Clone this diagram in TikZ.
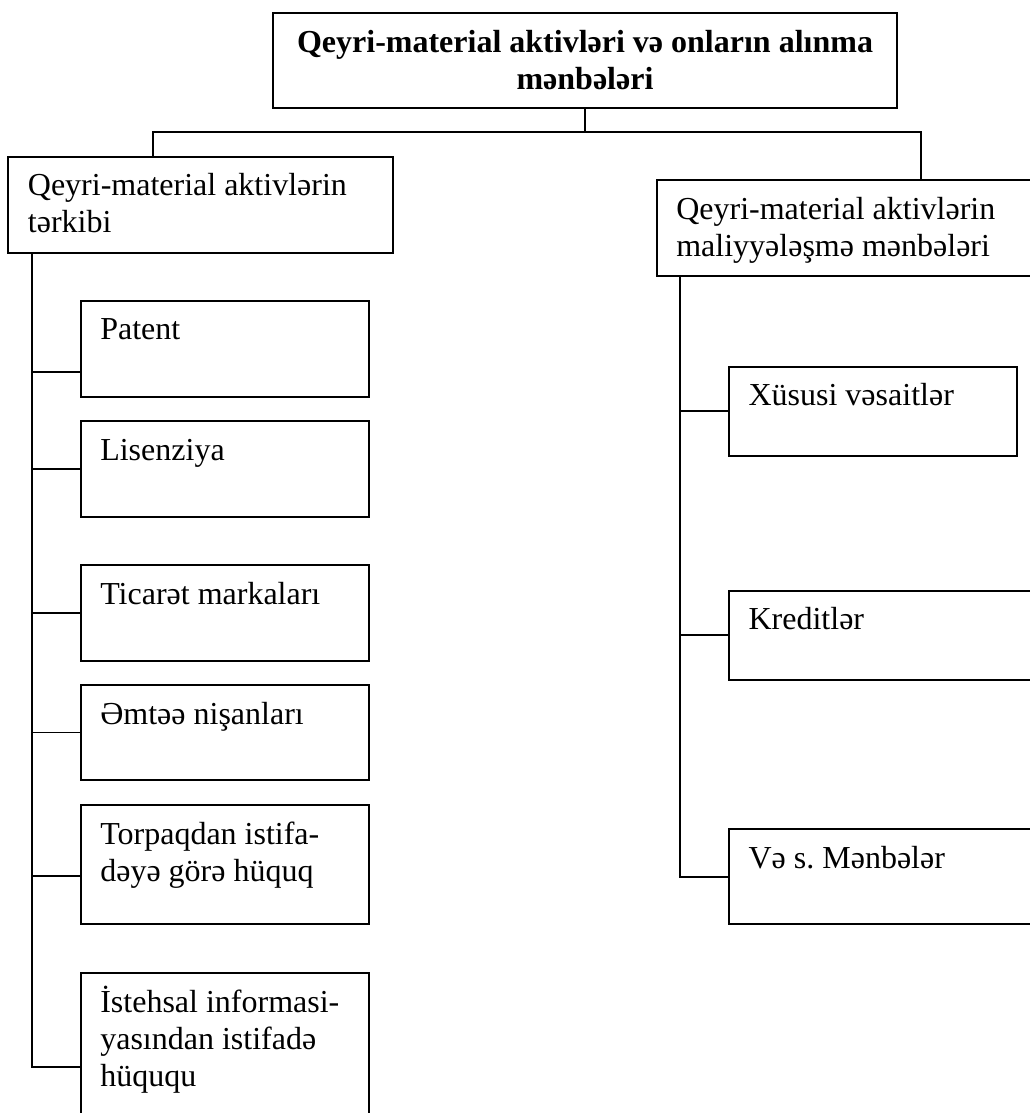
\documentclass[tikz,border=0pt]{standalone}
\usepackage{fontspec}
\setmainfont{Liberation Serif}
\usetikzlibrary{fit,calc}
\frenchspacing
\begin{document}
\begin{tikzpicture}[x=0.375pt,y=-0.375pt,
  box/.style={draw, line width=0.7pt, inner sep=0pt, rectangle},
  txt/.style={anchor=north west, inner sep=0pt, align=left,
    font=\fontsize{12pt}{13.9pt}\selectfont},
  link/.style={draw, line width=0.7pt}]
\useasboundingbox (0,0) rectangle (1030,1113);
\clip (0,0) rectangle (1030,1113);

% title box
\node[box, fit={(273,13)(897,108)}] (root) {};
\node[txt, anchor=north, align=center,
  font=\bfseries\fontsize{12pt}{13.9pt}\selectfont] (rootT)
  at ($(root.north)+(0,7.5)$)
  {\rule{0pt}{12pt}Qeyri-material aktivləri və onların alınma\\ mənbələri};

% the two branches
\node[box, fit={(8.3,156.7)(393,252.7)}] (comp) {};
\node[txt] (compT) at ($(comp.north west)+(20,7.5)$)
  {\rule{0pt}{12pt}Qeyri-material aktivlərin\\ tərkibi};

\node[box, fit={(656.7,180)(1045,276)}] (fin) {};
\node[txt] (finT) at ($(fin.north west)+(20,7.5)$)
  {\rule{0pt}{12pt}Qeyri-material aktivlərin\\ maliyyələşmə mənbələri};

% composition items
\node[box, fit={(80.7,300.7)(369,396.7)}] (patent) {};
\node[txt] (patentT) at ($(patent.north west)+(20,7.5)$) {\rule{0pt}{12pt}Patent};

\node[box, fit={(80.7,421)(369,516.7)}] (lic) {};
\node[txt] (licT) at ($(lic.north west)+(20,7.5)$) {\rule{0pt}{12pt}Lisenziya};

\node[box, fit={(80.7,565)(369,660.7)}] (trade) {};
\node[txt] (tradeT) at ($(trade.north west)+(20,7.5)$) {\rule{0pt}{12pt}Ticarət markaları};

\node[box, fit={(80.7,685)(369,780)}] (goods) {};
\node[txt] (goodsT) at ($(goods.north west)+(20,7.5)$) {\rule{0pt}{12pt}Əmtəə nişanları};

\node[box, fit={(80.7,805)(369,924.3)}] (land) {};
\node[txt] (landT) at ($(land.north west)+(20,7.5)$)
  {\rule{0pt}{12pt}Torpaqdan istifa-\\ dəyə görə hüquq};

\node[box, fit={(80.7,973.3)(369,1130)}] (info) {};
\node[txt] (infoT) at ($(info.north west)+(20,7.5)$)
  {\rule{0pt}{12pt}İstehsal informasi-\\ yasından istifadə\\ hüququ};

% financing sources
\node[box, fit={(729,366.7)(1017.3,456)}] (own) {};
\node[txt] (ownT) at ($(own.north west)+(20,7.5)$) {\rule{0pt}{12pt}Xüsusi vəsaitlər};

\node[box, fit={(729,590.7)(1045,680)}] (credit) {};
\node[txt] (creditT) at ($(credit.north west)+(20,7.5)$) {\rule{0pt}{12pt}Kreditlər};

\node[box, fit={(729,829)(1045,924.3)}] (other) {};
\node[txt] (otherT) at ($(other.north west)+(20,7.5)$) {\rule{0pt}{12pt}Və s. Mənbələr};

% connectors: title to branches
\coordinate (busL) at (152.7,132);
\coordinate (busR) at (921,132);
\draw[link] (root.south) -- (root.south |- busL);
\draw[link] (busL |- comp.north) -- (busL) -- (busR) -- (busR |- fin.north);

% left spine
\coordinate (spL) at ($(comp.south west)+(24.4,0)$);
\coordinate (patentIn) at ($(patent.north west)+(0,72)$);
\coordinate (landIn) at ($(land.north west)+(0,71.7)$);
\coordinate (infoIn) at ($(info.north west)+(0,95)$);
\draw[link] (spL) -- (spL |- infoIn) -- (infoIn);
\draw[link] (spL |- patentIn) -- (patentIn);
\draw[link] (spL |- lic.west) -- (lic.west);
\draw[link] (spL |- trade.west) -- (trade.west);
\draw[link] (spL |- goods.west) -- (goods.west);
\draw[link] (spL |- landIn) -- (landIn);

% right spine
\coordinate (spR) at ($(fin.south west)+(24.3,0)$);
\draw[link] (spR) -- (spR |- other.west) -- (other.west);
\draw[link] (spR |- own.west) -- (own.west);
\draw[link] (spR |- credit.west) -- (credit.west);
\end{tikzpicture}
\end{document}
